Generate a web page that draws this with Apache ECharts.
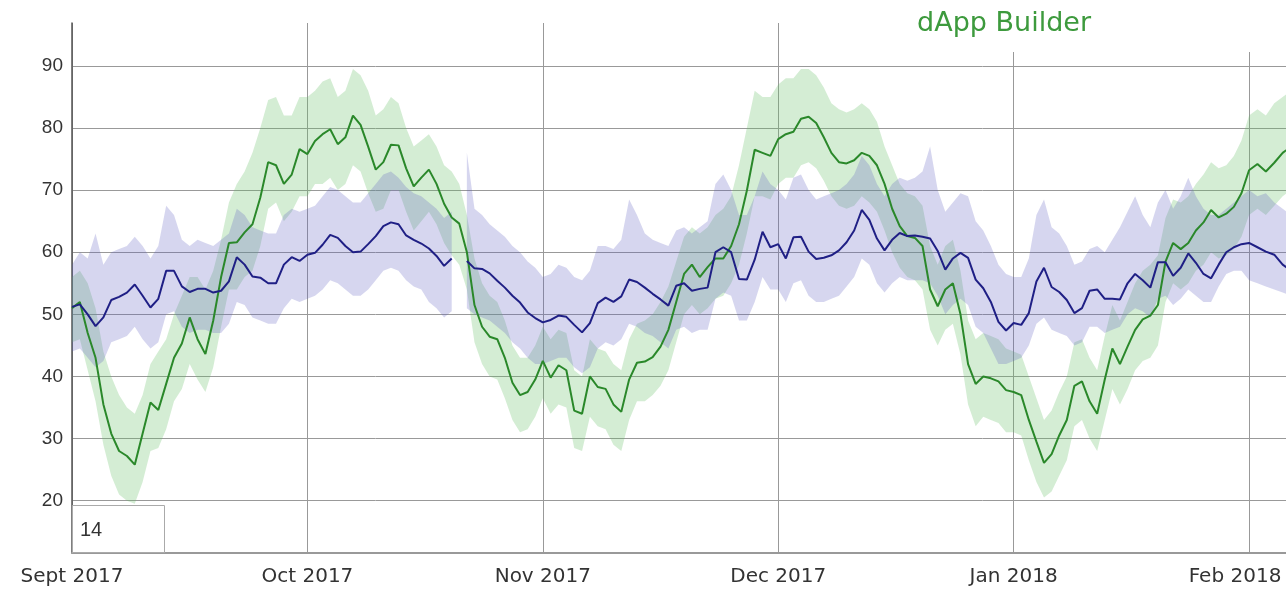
<!DOCTYPE html>
<html>
<head>
<meta charset="utf-8">
<script src="https://cdn.jsdelivr.net/npm/echarts@6/dist/echarts.min.js"></script>
<style>
  html, body { margin: 0; padding: 0; background: #fff; }
  #chart { width: 1286px; height: 590px; }
</style>
</head>
<body>
<div id="chart"></div>
<script>
// month labels on the x axis, days per month, and how many days of each month are plotted
var monthLabels = ['Sept 2017', 'Oct 2017', 'Nov 2017', 'Dec 2017', 'Jan 2018', 'Feb 2018']
var monthDays = [30, 31, 30, 31, 31, 28]
var daysShown = [30, 31, 30, 31, 31, 6]
var yTicks = [20, 30, 40, 50, 60, 70, 80, 90]
var windowSize = '14'

// dApp Builder (green) - daily values, Sept 1 .. Feb 6
var dappLine = [
  51, 52, 47, 43, 35.5, 30.8, 28, 27.2, 25.8, 30.8, 35.8, 34.6, 38.8, 43, 45.3, 49.5, 46, 43.6, 49, 56, 61.5, 61.6, 63.2, 64.5, 68.8, 74.5, 74, 71, 72.5, 76.6,
  75.8, 77.9, 79, 79.8, 77.4, 78.5, 82, 80.5, 77, 73.3, 74.5, 77.3, 77.2, 73.5, 70.6, 72, 73.3, 71, 67.8, 65.6, 64.6, 60, 51.5, 48, 46.4, 46, 43, 39, 37, 37.5, 39.5,
  42.5, 39.8, 41.8, 41, 34.5, 34, 40, 38.3, 38, 35.5, 34.3, 39.5, 42.2, 42.4, 43.1, 44.8, 47.5, 52, 56.5, 58, 56, 57.6, 59, 59, 61, 64.5, 69.9, 76.5, 76, 75.5,
  78.2, 79, 79.4, 81.5, 81.8, 80.8, 78.5, 76, 74.5, 74.3, 74.8, 76, 75.5, 74, 71, 67, 64.2, 62.6, 62.3, 61, 54, 51.3, 54, 55, 50, 42, 38.8, 40, 39.7, 39.2, 37.8,
  37.5, 37, 33, 29.5, 26.1, 27.5, 30.5, 33, 38.5, 39.2, 36, 34, 39.5, 44.5, 42, 44.8, 47.5, 49.2, 49.8, 51.5, 58.5, 61.5, 60.5, 61.5, 63.5, 64.8, 66.8, 65.6, 66.2, 67.3, 69.5,
  73.2, 74.2, 73, 74.4, 76, 77
]
var dappUpper = [
  56, 57, 55, 51, 44, 40, 37, 35, 34, 37, 42, 44, 46, 50, 53, 56, 56, 54, 57, 62, 68, 71, 73, 76, 80, 84.5, 85, 82, 82, 85,
  85, 86, 87.5, 88, 85, 86, 89.5, 88.5, 86, 82, 83, 85, 84, 80, 77, 78, 79, 77, 74, 73, 71, 66, 59, 55, 53, 52, 49, 45, 43, 43, 45,
  48, 46, 47.5, 47, 41, 40, 46, 44.5, 44, 42, 41, 46, 48.5, 49, 50, 52, 54.5, 58.5, 62.5, 64, 63, 64, 66, 67, 69, 74, 80, 86, 85, 85,
  87, 88, 88, 89.5, 89.5, 88.5, 86.5, 84, 83, 82.5, 83, 84, 83, 81, 77, 74, 71, 69.5, 69, 67.5, 61, 58, 61, 62, 57, 49, 46, 47, 46.5, 46, 44.5,
  44, 43.5, 40, 36.5, 33, 34.5, 37.5, 40, 45.5, 46, 43, 41, 46.5, 51.5, 49, 52, 55, 57, 58, 59.5, 65.5, 68.5, 68, 69, 71, 72.5, 74.5, 73.5, 74, 75.5, 78,
  82, 83, 82, 84, 85, 86
]
var dappLower = [
  45.5, 46, 41, 36, 29, 24, 21, 20, 19.5, 23, 28, 28.5, 31.5, 36, 38, 42, 39.5, 37.5, 41.5, 48, 54, 54, 56, 57, 61, 67, 68, 65, 66.5, 69,
  69, 71, 71, 72, 70, 71, 74, 73, 69.5, 66.5, 67, 70, 70, 66.5, 63.5, 65, 66.5, 64.5, 61.5, 59.5, 58, 54, 45.5, 42, 40, 39.5, 36.5, 33, 31, 31.5, 33.5,
  36.5, 34, 35.5, 35, 28.5, 28, 33.5, 32, 31.5, 29, 28, 33, 36, 36, 37, 38.5, 41, 45.5, 50, 51.5, 50, 51, 52.5, 53, 55, 58, 63, 69, 69, 68.5,
  71, 72, 72, 74, 74.5, 73.5, 71.5, 69, 67.5, 67, 67.5, 69, 68, 66.5, 63.5, 60, 57.5, 56, 55.5, 54, 47.5, 45, 47.5, 48.5, 43.5, 35.5, 32, 33.5, 33, 32.5, 31,
  31, 30.5, 26.5, 23, 20.5, 21.5, 24, 26.5, 32, 33, 30, 28, 33, 38, 35.5, 38, 41, 42.5, 43, 45, 52, 55, 54, 55, 57, 58, 60, 59, 59.5, 60.5, 62.5,
  66, 67, 66, 67.5, 69, 70
]

// comparison series (navy) - daily values, one missing day in late Oct
var avgLine = [
  51.2, 51.6, 50, 48.1, 49.5, 52.3, 52.8, 53.5, 54.8, 53, 51.1, 52.5, 57, 57, 54.5, 53.6, 54.1, 54.1, 53.5, 53.8, 55.3, 59.2, 58, 56.1, 55.9, 55, 55, 58, 59.2, 58.6,
  59.6, 59.9, 61.2, 62.8, 62.3, 61, 60, 60.1, 61.3, 62.6, 64.2, 64.8, 64.5, 62.7, 62, 61.4, 60.6, 59.4, 57.8, 59, '-', 58.6, 57.4, 57.3, 56.6, 55.4, 54.3, 53, 51.9, 50.3, 49.4,
  48.7, 49.1, 49.8, 49.6, 48.3, 47.1, 48.6, 51.8, 52.7, 52, 52.9, 55.6, 55.2, 54.3, 53.3, 52.4, 51.4, 54.6, 55, 53.8, 54.1, 54.3, 60, 60.8, 60, 55.7, 55.6, 58.8, 63.3, 60.8,
  61.3, 59, 62.4, 62.5, 60.1, 58.9, 59.1, 59.5, 60.3, 61.6, 63.5, 66.8, 65.2, 62.2, 60.3, 62, 63.1, 62.6, 62.7, 62.5, 62.2, 60.2, 57.2, 59, 59.9, 59.1, 55.6, 54.2, 52, 48.8, 47.4,
  48.6, 48.3, 50.2, 55.3, 57.5, 54.4, 53.6, 52.3, 50.2, 51, 53.8, 54, 52.5, 52.5, 52.4, 55, 56.5, 55.5, 54.3, 58.4, 58.4, 56.2, 57.5, 59.8, 58.3, 56.5, 55.8, 58, 60, 60.8, 61.3,
  61.5, 60.8, 60.1, 59.6, 58, 57
]
var avgUpper = [
  58, 60, 59, 63, 58, 60, 60.5, 61, 62.5, 61, 59, 61, 67.5, 66, 62, 61, 62, 61.5, 61, 62, 63, 67, 66, 64, 63.5, 63, 63, 66, 67, 66.5,
  67, 67.5, 69, 70.5, 70, 69, 68, 68, 69.5, 71, 72.5, 73, 72, 70.5, 69.5, 69, 68, 67, 65.5, 66.5, '-', 76, 67, 66, 64.5, 63.5, 62.5, 61, 60, 58.5, 57.5,
  56, 56.5, 58, 57.5, 56, 55.5, 57, 61, 61, 60.5, 62, 68.5, 66, 63, 62, 61.5, 61, 63.5, 64, 63, 64, 65, 71, 72.5, 70, 66, 66, 69, 73, 71,
  70, 68.5, 72, 72.5, 70, 68.5, 69, 69.5, 70, 71, 72.5, 75.5, 74, 71, 69, 71, 72, 71.5, 72, 73, 77, 70, 66.5, 68, 69.5, 69, 65, 63.5, 61, 58, 56.5,
  56, 56, 59, 66, 68.5, 64, 63, 61, 58, 58.5, 60.5, 61, 60, 62, 64, 66.5, 69, 66, 64, 68, 70, 67, 69, 72, 69, 67, 66, 66, 67, 68, 69,
  70, 69, 69.5, 68, 67, 66
]
var avgLower = [
  44, 44.5, 43, 41.5, 42.5, 45.5, 46, 46.5, 48, 46, 44.5, 45.5, 50, 50.5, 48, 47, 47.5, 47.5, 47, 47, 48.5, 52, 51.5, 49.5, 49, 48.5, 48.5, 51, 52.5, 52,
  52.5, 53, 54, 55.5, 55, 54, 53, 53, 54, 55.5, 57, 57.5, 57, 55.5, 54.5, 54, 52, 51, 49.5, 50.5, '-', 51, 50, 49.5, 49, 48, 47, 45.5, 44.5, 43, 42,
  42, 42.5, 43, 43, 41.5, 40.5, 41.5, 44.5, 45.5, 45, 46, 48.5, 48, 47, 46.5, 45.5, 44.5, 47.5, 48, 47, 47.5, 47.5, 52.5, 53.5, 53, 49, 49, 52, 56, 54,
  54, 52, 55, 55.5, 53, 52, 52, 52.5, 53, 54.5, 56, 59, 58, 55, 53.5, 55, 56, 55.5, 55.5, 55.5, 55, 53, 50, 51.5, 52.5, 51.5, 48, 47, 44.5, 42, 42,
  42.5, 43, 45, 48.5, 49.5, 47.5, 47, 46.5, 45, 45.5, 48, 48, 47, 47.5, 48, 50, 51, 50.5, 49.5, 52.5, 53, 51.5, 52.5, 54, 53, 52, 52, 54.5, 56.5, 57, 57,
  55.5, 55, 54.5, 54, 53.5, 53
]

// x position of each day, in months counted from Sept 1
var xs = []
for (var m = 0; m < daysShown.length; m++) {
  for (var k = 0; k < daysShown[m]; k++) {
    xs.push(m + k / monthDays[m])
  }
}
function pairs(arr) {
  return arr.map(function (v, i) { return [xs[i], v] })
}

// min/max band drawn as filled polygons through the axes' own coord()
function bandSeries(name, upper, lower, color, z) {
  return {
    name: name,
    type: 'custom',
    silent: true,
    z: z,
    clip: true,
    encode: { x: 0, y: [1, 2] },
    data: xs.map(function (x, i) { return [x, lower[i], upper[i]] }),
    renderItem: function (params, api) {
      if (params.dataIndex !== 0) return null
      var parts = []
      var top = []
      var bottom = []
      function flush() {
        if (top.length > 1) {
          parts.push({
            type: 'polygon',
            shape: { points: top.concat(bottom.reverse()) },
            style: { fill: color }
          })
        }
        top = []
        bottom = []
      }
      for (var i = 0; i < xs.length; i++) {
        if (upper[i] === '-' || lower[i] === '-') {
          flush()
          continue
        }
        top.push(api.coord([xs[i], upper[i]]))
        bottom.push(api.coord([xs[i], lower[i]]))
      }
      flush()
      return { type: 'group', children: parts }
    }
  }
}

var chart = echarts.init(document.getElementById('chart'))
var option = {
  animation: false,
  backgroundColor: '#fff',
  grid: { left: 72, right: 0, top: 23, bottom: 37, containLabel: false },
  xAxis: {
    type: 'value',
    min: 0,
    max: 5.157,
    axisLine: { show: true, lineStyle: { color: '#999', width: 2 } },
    axisTick: { show: false, customValues: [0, 1, 2, 3, 4, 5] },
    splitLine: { show: true, lineStyle: { color: '#999', width: 1 } },
    axisLabel: {
      customValues: [0, 1, 2, 3, 4, 5],
      margin: 14,
      color: '#333',
      fontFamily: 'DejaVu Sans',
      fontSize: 20,
      formatter: function (v) {
        var i = Math.round(v)
        return i === 5 ? '{f|' + monthLabels[i] + '}' : monthLabels[i]
      },
      rich: {
        f: { padding: [0, 28, 0, 0], color: '#333', fontFamily: 'DejaVu Sans', fontSize: 20 }
      }
    }
  },
  yAxis: {
    type: 'value',
    min: 11.58,
    max: 96.9,
    axisLine: { show: true, lineStyle: { color: '#555', width: 1.5 } },
    axisTick: { show: false, customValues: yTicks },
    splitLine: { show: true, lineStyle: { color: '#999', width: 1 } },
    axisLabel: {
      customValues: yTicks,
      margin: 9,
      color: '#333',
      fontFamily: 'Liberation Sans',
      fontSize: 19
    }
  },
  series: [
    bandSeries('dApp band', dappUpper, dappLower, 'rgba(100,190,100,0.28)', 1),
    bandSeries('avg band', avgUpper, avgLower, 'rgba(90,90,190,0.25)', 2),
    {
      name: 'dApp Builder',
      type: 'line',
      symbol: 'none',
      lineStyle: { color: '#2a882a', width: 2 },
      data: pairs(dappLine),
      z: 3
    },
    {
      name: 'average',
      type: 'line',
      symbol: 'none',
      lineStyle: { color: '#1f1f85', width: 2 },
      data: pairs(avgLine),
      z: 4
    }
  ],
  graphic: [
    {
      type: 'rect',
      z: 100,
      shape: { x: 870, y: 0, width: 416, height: 52 },
      style: { fill: '#fff' }
    },
    {
      type: 'text',
      z: 101,
      x: 1004,
      y: 24,
      style: {
        text: 'dApp Builder',
        fill: '#3d9a3d',
        font: '27px "DejaVu Sans"',
        textAlign: 'center',
        textVerticalAlign: 'middle'
      }
    },
    {
      type: 'rect',
      z: 100,
      shape: { x: 72.5, y: 505.5, width: 92, height: 47 },
      style: { fill: '#fff', stroke: '#aaa', lineWidth: 1 }
    },
    {
      type: 'text',
      z: 101,
      x: 80,
      y: 530,
      style: {
        text: windowSize,
        fill: '#333',
        font: '20px "Liberation Sans"',
        textAlign: 'left',
        textVerticalAlign: 'middle'
      }
    }
  ]
}
chart.setOption(option, true)
</script>
</body>
</html>
